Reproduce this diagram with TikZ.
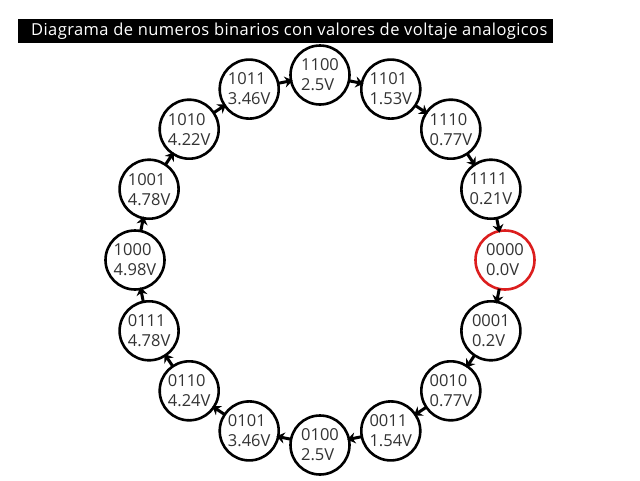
\documentclass[tikz,border=0pt]{standalone}
\usepackage{fontspec}
\setmainfont{Open Sans}
\usetikzlibrary{arrows.meta}
\definecolor{ringred}{RGB}{220,30,30}
\tikzset{
  state/.style={circle, draw=black, line width=2.6pt, minimum size=59pt, inner sep=0pt,
    font=\fontsize{16.5}{20}\selectfont, align=left, text=black!80},
  startstate/.style={state, draw=ringred},
  link/.style={line width=3pt, -{Stealth[length=8pt,width=11pt]}, shorten <=-1.5pt, shorten >=-3pt},
  titlebar/.style={fill=black, draw=none},
}
\begin{document}
\begin{tikzpicture}[x=1pt,y=-1pt]
\useasboundingbox[fill=white] (0,0) rectangle (640,480);
\fill[titlebar] (18,19) rectangle (553,43);
\node[anchor=west, text=white, inner sep=0pt, font=\fontsize{16.5}{18}\selectfont\addfontfeature{LetterSpace=2.5}] (title) at (31,31)
  {Diagrama de numeros binarios con valores de voltaje analogicos};
\coordinate (c) at (320,260);
\node[startstate] (s0)  at ([shift={(0:185)}]c)    {0000\\0.0V};
\node[state]      (s1)  at ([shift={(22.5:185)}]c) {0001\\0.2V};
\node[state]      (s2)  at ([shift={(45:185)}]c)   {0010\\0.77V};
\node[state]      (s3)  at ([shift={(67.5:185)}]c) {0011\\1.54V};
\node[state]      (s4)  at ([shift={(90:185)}]c)   {0100\\2.5V};
\node[state]      (s5)  at ([shift={(112.5:185)}]c){0101\\3.46V};
\node[state]      (s6)  at ([shift={(135:185)}]c)  {0110\\4.24V};
\node[state]      (s7)  at ([shift={(157.5:185)}]c){0111\\4.78V};
\node[state]      (s8)  at ([shift={(180:185)}]c)  {1000\\4.98V};
\node[state]      (s9)  at ([shift={(202.5:185)}]c){1001\\4.78V};
\node[state]      (s10) at ([shift={(225:185)}]c)  {1010\\4.22V};
\node[state]      (s11) at ([shift={(247.5:185)}]c){1011\\3.46V};
\node[state]      (s12) at ([shift={(270:185)}]c)  {1100\\2.5V};
\node[state]      (s13) at ([shift={(292.5:185)}]c){1101\\1.53V};
\node[state]      (s14) at ([shift={(315:185)}]c)  {1110\\0.77V};
\node[state]      (s15) at ([shift={(337.5:185)}]c){1111\\0.21V};
\foreach \a/\b in {s0/s1,s1/s2,s2/s3,s3/s4,s4/s5,s5/s6,s6/s7,s7/s8,s8/s9,s9/s10,s10/s11,s11/s12,s12/s13,s13/s14,s14/s15,s15/s0}
  \draw[link] (\a) -- (\b);
\end{tikzpicture}
\end{document}
